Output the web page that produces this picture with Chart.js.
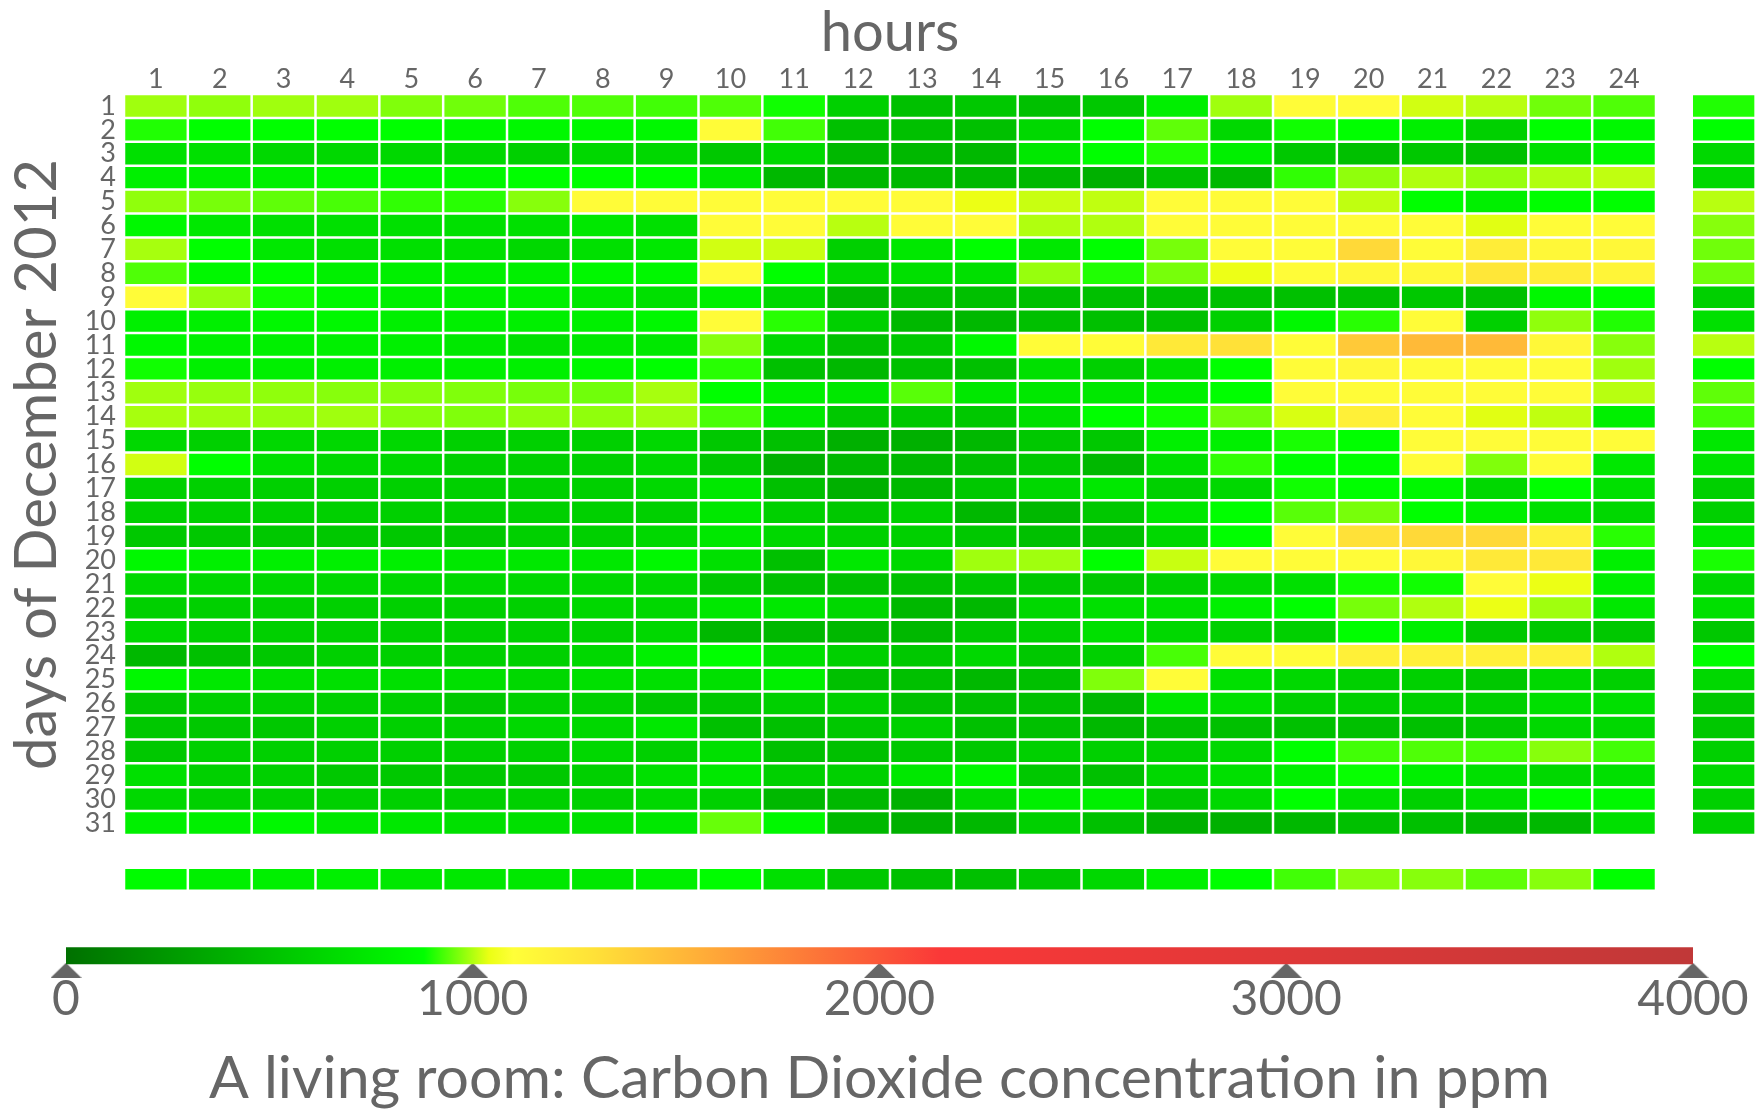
<!DOCTYPE html>
<html>
<head>
<meta charset="utf-8">
<script src="https://cdn.jsdelivr.net/npm/chart.js@4.4.1/dist/chart.umd.min.js"></script>
<style>
  body { margin: 0; background: #fff; }
  #wrap { position: relative; width: 1763px; height: 1111px; }
  #wrap canvas { position: absolute; left: 0; }
  #grid { top: 0; }
  #scale { top: 811px; }
</style>
</head>
<body>
<div id="wrap">
  <canvas id="grid" width="1763" height="905"></canvas>
  <canvas id="scale" width="1763" height="300"></canvas>
</div>
<script>
const hours = [1, 2, 3, 4, 5, 6, 7, 8, 9, 10, 11, 12, 13, 14, 15, 16, 17, 18, 19, 20, 21, 22, 23, 24];
const days = [1, 2, 3, 4, 5, 6, 7, 8, 9, 10, 11, 12, 13, 14, 15, 16, 17, 18, 19, 20, 21, 22, 23, 24, 25, 26, 27, 28, 29, 30, 31];

// CO2 in ppm, one row per day, one value per hour
const ppm = [
  [989, 978, 989, 989, 967, 956, 934, 934, 924, 934, 891, 590, 490, 540, 490, 540, 780, 989, 1120, 1120, 1022, 1005, 956, 934],
  [902, 878, 878, 878, 878, 835, 835, 835, 835, 1120, 924, 490, 490, 490, 640, 878, 945, 640, 891, 878, 780, 590, 878, 835],
  [690, 690, 640, 640, 640, 640, 590, 640, 640, 540, 640, 445, 445, 445, 740, 878, 902, 790, 540, 490, 540, 490, 690, 835],
  [790, 790, 790, 835, 835, 835, 878, 878, 878, 740, 445, 445, 445, 445, 445, 395, 490, 445, 913, 978, 1000, 983, 1000, 1011],
  [978, 961, 945, 929, 913, 907, 972, 1120, 1120, 1120, 1120, 1120, 1120, 1042, 1016, 1011, 1120, 1120, 1120, 1011, 878, 790, 878, 878],
  [835, 740, 690, 690, 690, 690, 690, 740, 690, 1120, 1120, 1005, 1120, 1120, 1000, 1000, 1120, 1120, 1120, 1120, 1120, 1033, 1120, 1120],
  [994, 878, 740, 690, 690, 690, 640, 690, 740, 1022, 1016, 590, 740, 878, 740, 878, 961, 1120, 1120, 1340, 1120, 1220, 1150, 1150],
  [934, 835, 878, 790, 790, 790, 790, 835, 835, 1120, 878, 640, 690, 690, 983, 902, 961, 1045, 1120, 1150, 1150, 1260, 1220, 1170],
  [1120, 983, 891, 835, 790, 790, 790, 740, 690, 790, 640, 445, 490, 490, 490, 490, 490, 490, 490, 490, 540, 490, 835, 878],
  [790, 790, 835, 835, 790, 790, 790, 790, 835, 1120, 907, 590, 445, 445, 490, 490, 490, 590, 835, 907, 1120, 590, 978, 902],
  [835, 790, 790, 790, 790, 740, 690, 740, 740, 972, 640, 490, 540, 835, 1120, 1120, 1250, 1300, 1120, 1420, 1500, 1500, 1150, 972],
  [891, 790, 790, 790, 790, 790, 790, 835, 878, 907, 490, 445, 490, 490, 690, 590, 690, 878, 1120, 1150, 1120, 1120, 1120, 989],
  [989, 983, 978, 972, 972, 967, 961, 956, 994, 878, 790, 740, 940, 740, 740, 740, 790, 878, 1120, 1120, 1120, 1120, 1120, 1005],
  [994, 989, 983, 989, 972, 967, 978, 978, 989, 929, 740, 540, 540, 540, 690, 878, 891, 956, 1027, 1200, 1120, 1033, 1011, 790],
  [640, 590, 640, 640, 640, 590, 590, 590, 640, 540, 490, 395, 395, 445, 540, 540, 790, 790, 896, 878, 1120, 1120, 1120, 1120],
  [1022, 878, 690, 640, 640, 590, 590, 590, 640, 540, 395, 445, 445, 490, 540, 445, 690, 913, 878, 878, 1120, 967, 1120, 740],
  [590, 590, 590, 590, 590, 590, 590, 590, 640, 740, 490, 395, 445, 540, 640, 740, 590, 640, 891, 878, 835, 640, 878, 690],
  [590, 590, 590, 590, 590, 590, 590, 590, 590, 740, 590, 540, 590, 445, 445, 540, 740, 878, 940, 961, 878, 790, 690, 640],
  [540, 540, 540, 540, 540, 540, 590, 590, 640, 740, 640, 590, 590, 540, 490, 490, 640, 878, 1120, 1300, 1340, 1340, 1200, 907],
  [835, 790, 790, 790, 790, 740, 740, 740, 835, 690, 490, 740, 640, 989, 989, 878, 1016, 1120, 1120, 1120, 1150, 1250, 1250, 790],
  [640, 640, 640, 640, 640, 640, 640, 640, 640, 540, 490, 490, 490, 540, 540, 540, 590, 640, 690, 891, 891, 1120, 1042, 790],
  [590, 590, 590, 590, 590, 590, 590, 640, 640, 740, 740, 640, 445, 445, 640, 690, 690, 790, 878, 961, 1000, 1042, 989, 740],
  [640, 590, 590, 590, 590, 590, 590, 590, 640, 445, 445, 445, 445, 540, 590, 690, 640, 590, 590, 878, 790, 540, 540, 540],
  [445, 490, 540, 590, 590, 590, 590, 640, 790, 878, 690, 590, 540, 640, 540, 590, 929, 1120, 1120, 1200, 1200, 1200, 1200, 1000],
  [835, 740, 690, 690, 690, 690, 640, 690, 690, 690, 790, 490, 490, 445, 490, 967, 1120, 690, 640, 590, 590, 540, 640, 590],
  [540, 590, 590, 590, 590, 540, 590, 590, 540, 540, 590, 590, 490, 490, 490, 445, 740, 690, 590, 590, 590, 590, 690, 690],
  [540, 540, 540, 590, 590, 590, 640, 640, 740, 490, 490, 540, 590, 490, 490, 445, 490, 490, 490, 490, 490, 540, 640, 640],
  [540, 590, 590, 590, 590, 590, 590, 640, 590, 690, 490, 490, 540, 540, 590, 590, 590, 640, 878, 924, 934, 929, 972, 924],
  [690, 590, 590, 540, 540, 540, 540, 590, 690, 740, 590, 590, 740, 835, 540, 490, 640, 690, 790, 885, 790, 690, 640, 690],
  [640, 590, 590, 590, 590, 590, 590, 590, 640, 590, 445, 445, 395, 640, 790, 790, 540, 640, 878, 690, 590, 690, 878, 835],
  [790, 790, 835, 740, 740, 690, 690, 690, 740, 950, 835, 445, 395, 445, 590, 490, 395, 395, 445, 490, 490, 445, 445, 690]
];

const dailyMean = [902, 878, 640, 640, 1005, 972, 956, 956, 590, 690, 1005, 878, 945, 924, 740, 715, 590, 590, 740, 896, 640, 690, 540, 878, 640, 540, 540, 590, 640, 590, 590];
const hourlyMean = [860, 790, 790, 790, 740, 740, 740, 740, 790, 870, 690, 540, 490, 490, 540, 640, 790, 878, 924, 972, 972, 945, 972, 878];

const scaleTicks = [0, 1000, 2000, 3000, 4000];

// colour map: ppm -> rgb
const colorStops = [
  [0, [0, 112, 0]],
  [880, [0, 255, 0]],
  [1040, [235, 255, 20]],
  [1100, [255, 255, 56]],
  [1300, [255, 225, 56]],
  [1550, [255, 176, 56]],
  [2150, [250, 56, 56]],
  [4000, [192, 56, 56]]
];

function colorFor(v) {
  for (let i = 1; i < colorStops.length; i++) {
    const [v0, c0] = colorStops[i - 1];
    const [v1, c1] = colorStops[i];
    if (v <= v1) {
      const t = Math.max(0, (v - v0) / (v1 - v0));
      const c = c0.map((a, k) => Math.round(a + (c1[k] - a) * t));
      return `rgb(${c[0]}, ${c[1]}, ${c[2]})`;
    }
  }
  const c = colorStops[colorStops.length - 1][1];
  return `rgb(${c[0]}, ${c[1]}, ${c[2]})`;
}

Chart.defaults.font.family = 'Lato, "Open Sans", sans-serif';
const textColor = '#666666';

// where the mean column / mean row sit on the hour / day axes
const MEAN_COL = 25.56;
const MEAN_ROW = 33.35;

const cellStyle = {
  borderColor: '#ffffff',
  borderWidth: 1.25,
  borderSkipped: false,
  inflateAmount: 0,
  grouped: false,
  barPercentage: 1,
  categoryPercentage: 1
};

const datasets = days.map((d, r) => ({
  label: 'Dec ' + d,
  data: hours.map(h => ({ x: h, y: [d - 0.5, d + 0.5] })),
  backgroundColor: ppm[r].map(colorFor),
  ...cellStyle
}));

datasets.push({
  label: 'daily mean',
  data: days.map(d => ({ x: MEAN_COL, y: [d - 0.5, d + 0.5] })),
  backgroundColor: dailyMean.map(colorFor),
  clip: false,
  ...cellStyle
});

datasets.push({
  label: 'hourly mean',
  data: hours.map(h => ({ x: h, y: [MEAN_ROW - 0.48, MEAN_ROW + 0.48] })),
  backgroundColor: hourlyMean.map(colorFor),
  clip: false,
  ...cellStyle
});

new Chart(document.getElementById('grid'), {
  type: 'bar',
  data: { datasets },
  options: {
    responsive: false,
    animation: false,
    layout: { padding: { left: 0, top: 0, right: 107, bottom: 70 } },
    plugins: { legend: { display: false }, tooltip: { enabled: false } },
    scales: {
      x: {
        type: 'linear',
        position: 'top',
        min: 0.5,
        max: 24.5,
        offset: false,
        afterBuildTicks: s => { s.ticks = hours.map(v => ({ value: v })); },
        grid: { display: false, drawTicks: false },
        border: { display: false },
        ticks: { color: textColor, font: { size: 27, lineHeight: 1 }, padding: 1, maxRotation: 0, autoSkip: false },
        title: {
          display: true, text: 'hours', color: textColor,
          font: { size: 56, lineHeight: 1 }, padding: { top: 5, bottom: 4 }
        }
      },
      y: {
        type: 'linear',
        reverse: true,
        min: 0.5,
        max: 31.5,
        afterBuildTicks: s => { s.ticks = days.map(v => ({ value: v })); },
        afterFit: s => { s.width = 124; },
        grid: { display: false, drawTicks: false },
        border: { display: false },
        ticks: { color: textColor, font: { size: 27, lineHeight: 1 }, padding: 8, autoSkip: false },
        title: {
          display: true, text: 'days of December 2012', color: textColor,
          font: { size: 58, lineHeight: 1 }, padding: { top: 8, bottom: 0 }
        }
      }
    }
  }
});

// colour bar
const BAR_LEVEL = 0.124;
const MARK_LEVEL = 0.03;

const marker = document.createElement('canvas');
marker.width = 31;
marker.height = 15;
const mctx = marker.getContext('2d');
mctx.fillStyle = textColor;
mctx.beginPath();
mctx.moveTo(15.5, 0);
mctx.lineTo(31, 15);
mctx.lineTo(0, 15);
mctx.closePath();
mctx.fill();

const lo = scaleTicks[0];
const hi = scaleTicks[scaleTicks.length - 1];

new Chart(document.getElementById('scale'), {
  type: 'scatter',
  data: {
    datasets: [
      {
        data: [{ x: lo, y: BAR_LEVEL }, { x: hi, y: BAR_LEVEL }],
        showLine: true,
        borderWidth: 17,
        borderCapStyle: 'butt',
        pointRadius: 0,
        borderColor: c => {
          const chart = c.chart;
          const xs = chart.scales.x;
          if (!xs || !chart.chartArea) return '#00aa00';
          const g = chart.ctx.createLinearGradient(xs.getPixelForValue(lo), 0, xs.getPixelForValue(hi), 0);
          colorStops.forEach(([v, rgb]) => g.addColorStop((v - lo) / (hi - lo), `rgb(${rgb[0]}, ${rgb[1]}, ${rgb[2]})`));
          return g;
        }
      },
      {
        data: scaleTicks.map(v => ({ x: v, y: MARK_LEVEL })),
        pointStyle: marker,
        pointRadius: 8,
        clip: false
      }
    ]
  },
  options: {
    responsive: false,
    animation: false,
    layout: { padding: { left: 66, right: 70, top: 0, bottom: 2.5 } },
    plugins: { legend: { display: false }, tooltip: { enabled: false } },
    scales: {
      x: {
        type: 'linear',
        min: lo,
        max: hi,
        afterBuildTicks: s => { s.ticks = scaleTicks.map(v => ({ value: v })); },
        grid: { display: false, drawTicks: false },
        border: { display: false },
        ticks: {
          color: textColor, font: { size: 48, lineHeight: 1 }, padding: 1,
          maxRotation: 0, autoSkip: false, callback: v => String(v)
        },
        title: {
          display: true, text: 'A living room: Carbon Dioxide concentration in ppm', color: textColor,
          font: { size: 59, lineHeight: 1 }, padding: { top: 24.5, bottom: 0 }
        }
      },
      y: { display: false, min: 0, max: 1 }
    }
  }
});
</script>
</body>
</html>
